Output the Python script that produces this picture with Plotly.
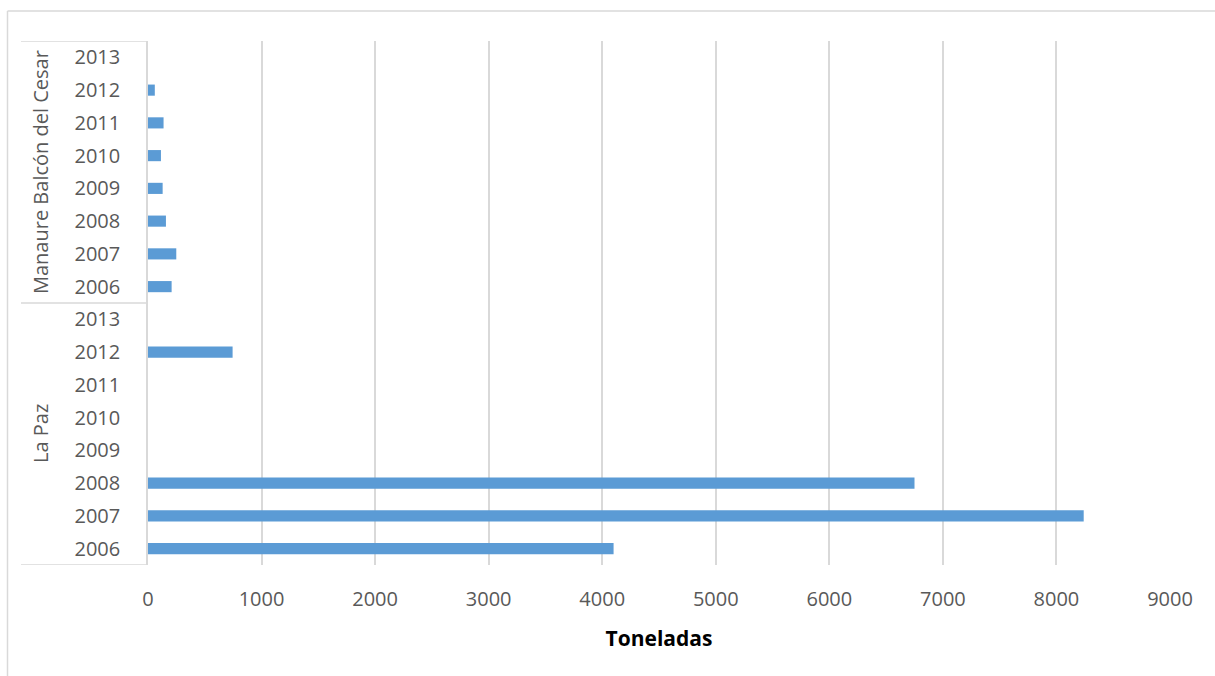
import plotly.graph_objects as go

# Production by municipality and year (tonnes)
years = ["2006", "2007", "2008", "2009", "2010", "2011", "2012", "2013"]
la_paz = [4100, 8240, 6750, None, None, None, 745, None]
manaure = [208, 249, 158, 129, 114, 137, 60, None]
groups = ["La Paz", "Manaure Balcón del Cesar"]
x_ticks = [0, 1000, 2000, 3000, 4000, 5000, 6000, 7000, 8000, 9000]

W, H = 1215, 676
L, R, T, B = 148, 45, 41, 111
pw, ph = W - L - R, H - T - B

cats = [f"{g}|{y}" for g in groups for y in years]
vals = la_paz + manaure
labels = years + years

def px(xpix):
    return (xpix - L) / pw

def py(ypix):
    return (H - B - ypix) / ph

grey = "#595959"
line = "#D9D9D9"
font = "Open Sans"

fig = go.Figure(go.Bar(
    y=cats, x=vals, orientation="h",
    marker=dict(color="#5B9BD5", line=dict(width=0)),
))

shapes = []
# horizontal separators of the two-level category labels
for yv in [-0.5, 7.5, 15.5]:
    shapes.append(dict(type="line", xref="paper", yref="y",
                       x0=px(21), x1=0, y0=yv, y1=yv,
                       line=dict(color=line, width=1.5)))
# chart frame
shapes.append(dict(type="line", xref="paper", yref="paper",
                   x0=px(7.5), x1=px(W + 5), y0=py(11), y1=py(11),
                   line=dict(color=line, width=1.5)))
shapes.append(dict(type="line", xref="paper", yref="paper",
                   x0=px(7.5), x1=px(7.5), y0=py(11), y1=py(H + 5),
                   line=dict(color=line, width=1.5)))

annotations = [
    dict(text=groups[1], xref="paper", yref="y", x=px(40), y=11.5,
         xanchor="center", yanchor="middle",
         textangle=-90, showarrow=False, font=dict(family=font, size=20, color=grey)),
    dict(text=groups[0], xref="paper", yref="y", x=px(40), y=3.5,
         xanchor="center", yanchor="middle",
         textangle=-90, showarrow=False, font=dict(family=font, size=20, color=grey)),
]

fig.update_layout(
    width=W, height=H,
    margin=dict(l=L, r=R, t=T, b=B, pad=0),
    paper_bgcolor="white", plot_bgcolor="white",
    bargap=0.66, showlegend=False,
    shapes=shapes, annotations=annotations,
    font=dict(family=font, color=grey, size=20),
    xaxis=dict(
        range=[0, 9000], tickvals=x_ticks, ticktext=[str(v) for v in x_ticks],
        showgrid=True, gridcolor=line, gridwidth=1.5, zeroline=False,
        showline=False, ticks="", ticklabelstandoff=20,
        tickfont=dict(family=font, size=20, color=grey),
        title=dict(text="<b>Toneladas</b>", standoff=20,
                   font=dict(family=font, size=21, color="black")),
    ),
    yaxis=dict(
        type="category", categoryorder="array", categoryarray=cats,
        tickvals=cats, ticktext=labels, range=[-0.5, 15.5],
        showgrid=False, zeroline=False, showline=True, linecolor=line, linewidth=1.5,
        ticks="", ticklabelstandoff=22,
        tickfont=dict(family=font, size=20, color=grey),
    ),
)

fig.write_html("out.html")
